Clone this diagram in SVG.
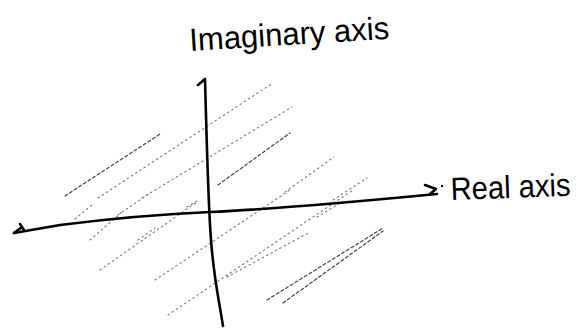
<svg xmlns="http://www.w3.org/2000/svg" width="583" height="336" viewBox="0 0 583 336">
<style>
.axis{fill:none;stroke:#000;stroke-width:2.6;stroke-linecap:round;stroke-linejoin:round}
.hatch{fill:none;stroke:#777;stroke-width:1.1;stroke-linecap:round;stroke-dasharray:1.5 3.5}
.hatch-d{fill:none;stroke:#444;stroke-width:1.2;stroke-linecap:round;stroke-dasharray:3 2.5}
.lbl{font-family:"Liberation Sans",Arial,sans-serif;font-size:32px;fill:#000}
</style>
<rect width="583" height="336" fill="#fff"/>
<g id="hatching">
<line class="hatch-d" x1="65" y1="196" x2="160" y2="134"/>
<line class="hatch" x1="98" y1="198" x2="273" y2="83"/>
<line class="hatch" x1="142" y1="198" x2="292" y2="107"/>
<line class="hatch-d" x1="218" y1="185" x2="290" y2="133"/>
<line class="hatch" x1="285" y1="192" x2="334" y2="157"/>
<line class="hatch" x1="333" y1="200" x2="367" y2="178"/>
<line class="hatch" x1="75" y1="219" x2="92" y2="205"/>
<line class="hatch" x1="118" y1="215" x2="150" y2="193"/>
<line class="hatch" x1="187" y1="207" x2="197" y2="201"/>
<line class="hatch" x1="90" y1="240" x2="122" y2="212"/>
<line class="hatch" x1="138" y1="240" x2="155" y2="228"/>
<line class="hatch" x1="100" y1="270" x2="197" y2="202"/>
<line class="hatch" x1="155" y1="280" x2="290" y2="190"/>
<line class="hatch" x1="168" y1="315" x2="353" y2="190"/>
<line class="hatch" x1="227" y1="277" x2="310" y2="232"/>
<line class="hatch" x1="317" y1="217" x2="340" y2="203"/>
<line class="hatch-d" x1="267" y1="300" x2="383" y2="228"/>
<line class="hatch-d" x1="283" y1="303" x2="383" y2="231"/>
</g>
<g id="connectors">
<path id="imaginary-axis" class="axis" d="M198,85 L205,79 C207,150 208,200 211,240 S219,300 223,326"/>
<path id="real-axis" class="axis" d="M14,233 L60,225 Q140,215 210,212 T437,194"/>
<path class="axis" d="M14,233 L22,227 M20,224 L24,230" stroke-width="2"/>
<path class="axis" d="M425,185 L436,189 L430,194" stroke-width="2"/>
<circle cx="442" cy="186" r="1.2" fill="#000"/>
</g>
<g id="imaginary-label">
<text class="lbl" x="190" y="51" textLength="200" lengthAdjust="spacingAndGlyphs" transform="rotate(-3.5 190 51)">Imaginary axis</text>
</g>
<g id="real-label">
<text class="lbl" x="451" y="200" textLength="120" lengthAdjust="spacingAndGlyphs" transform="rotate(-2 451 200)">Real axis</text>
</g>
</svg>
